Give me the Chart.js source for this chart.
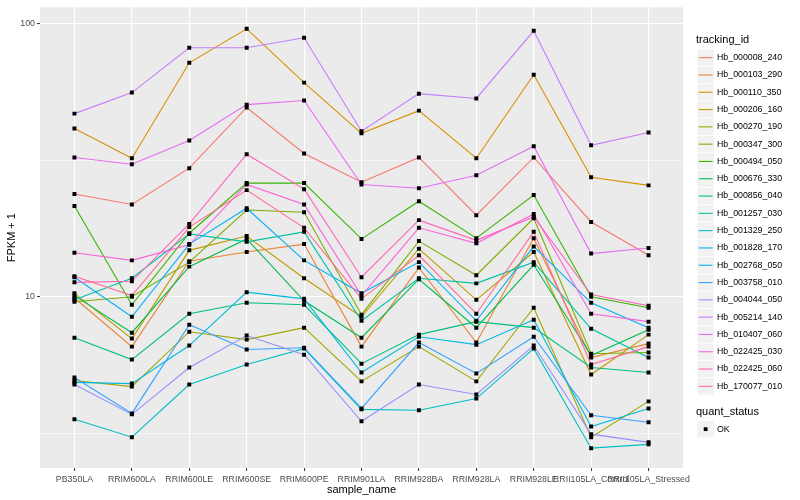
<!DOCTYPE html>
<html>
<head>
<meta charset="utf-8">
<script src="https://cdn.jsdelivr.net/npm/chart.js@4.4.0/dist/chart.umd.min.js"></script>
<style>
  html, body { margin: 0; padding: 0; background: #fff; }
  #wrap { width: 800px; height: 500px; }
</style>
</head>
<body>
<div id="wrap"><canvas id="chart" width="800" height="500"></canvas></div>
<script>
const sampleNames = ['PB350LA', 'RRIM600LA', 'RRIM600LE', 'RRIM600SE', 'RRIM600PE', 'RRIM901LA',
    'RRIM928BA', 'RRIM928LA', 'RRIM928LE', 'RRII105LA_Control', 'RRII105LA_Stressed'];

const trackingIds = ['Hb_000008_240', 'Hb_000103_290', 'Hb_000110_350', 'Hb_000206_160', 'Hb_000270_190',
    'Hb_000347_300', 'Hb_000494_050', 'Hb_000676_330', 'Hb_000856_040', 'Hb_001257_030',
    'Hb_001329_250', 'Hb_001828_170', 'Hb_002768_050', 'Hb_003758_010', 'Hb_004044_050',
    'Hb_005214_140', 'Hb_010407_060', 'Hb_022425_030', 'Hb_022425_060', 'Hb_170077_010'];

const seriesColors = ['#F8766D', '#EA8331', '#D89000', '#C09B00', '#A3A500', '#7CAE00', '#39B600',
    '#00BB4E', '#00BF7D', '#00C1A3', '#00BFC4', '#00BAE0', '#00B0F6', '#35A2FF', '#9590FF',
    '#C77CFF', '#E76BF3', '#FA62DB', '#FF62BC', '#FF6C91'];

// FPKM + 1 per sample
const hb_000008_240 = [23.8, 21.8, 29.6, 49.4, 33.5, 26.3, 32.4, 19.9, 32.4, 18.8, 14.2];
const hb_000103_290 = [9.9, 6.57, 13.5, 14.6, 15.6, 6.57, 12.8, 6.8, 16.4, 5.99, 6.74];
const hb_000110_350 = [41.4, 32.2, 72.0, 95.9, 60.9, 39.7, 48.1, 32.2, 65.1, 27.4, 25.6];
const hb_000206_160 = [10.3, 7.03, 14.8, 16.7, 11.7, 8.45, 15.0, 9.75, 14.6, 5.19, 7.27];
const hb_000270_190 = [4.94, 4.69, 7.45, 6.97, 7.71, 4.90, 6.57, 4.90, 9.12, 3.06, 4.14];
const hb_000347_300 = [9.59, 10.0, 13.4, 20.8, 20.4, 8.60, 16.0, 12.0, 19.4, 6.19, 6.25];
const hb_000494_050 = [21.5, 9.35, 17.1, 26.1, 26.1, 16.3, 22.4, 16.4, 23.6, 10.0, 9.12];
const hb_000676_330 = [10.1, 7.39, 12.9, 16.3, 9.67, 7.08, 11.6, 7.71, 13.1, 6.09, 7.58];
const hb_000856_040 = [7.08, 5.89, 8.67, 9.51, 9.35, 5.69, 7.27, 8.11, 7.71, 5.51, 5.28];
const hb_001257_030 = [9.75, 11.7, 17.0, 15.9, 17.3, 8.17, 11.7, 11.2, 13.4, 7.64, 5.99];
const hb_001329_250 = [3.56, 3.06, 4.77, 5.65, 6.46, 3.87, 3.84, 4.24, 6.46, 2.79, 2.88];
const hb_001828_170 = [4.86, 4.81, 6.63, 10.4, 9.83, 5.28, 7.14, 6.68, 8.24, 3.35, 3.90];
const hb_002768_050 = [11.8, 8.45, 15.6, 21.1, 13.6, 10.3, 13.4, 8.17, 15.3, 9.51, 7.71];
const hb_003758_010 = [5.06, 3.74, 7.90, 6.41, 6.51, 3.90, 6.80, 5.24, 7.14, 3.68, 3.47];
const hb_004044_050 = [4.77, 3.71, 5.51, 7.21, 6.14, 3.50, 4.77, 4.39, 6.63, 3.14, 2.93];
const hb_005214_140 = [46.9, 56.0, 81.7, 81.7, 88.9, 40.4, 55.5, 53.3, 94.3, 35.9, 40.0];
const hb_010407_060 = [32.4, 30.6, 37.4, 50.6, 52.4, 25.8, 25.0, 27.9, 35.6, 14.4, 15.1];
const hb_022425_030 = [14.5, 13.6, 15.5, 25.8, 21.8, 10.1, 17.9, 15.7, 20.1, 8.67, 8.11];
const hb_022425_060 = [11.3, 11.4, 18.5, 33.3, 24.8, 11.8, 19.1, 16.1, 19.6, 10.2, 9.27];
const hb_170077_010 = [11.9, 10.1, 18.0, 24.6, 17.9, 9.83, 14.2, 8.67, 17.3, 5.65, 6.57];

const fpkm = [hb_000008_240, hb_000103_290, hb_000110_350, hb_000206_160, hb_000270_190,
    hb_000347_300, hb_000494_050, hb_000676_330, hb_000856_040, hb_001257_030,
    hb_001329_250, hb_001828_170, hb_002768_050, hb_003758_010, hb_004044_050,
    hb_005214_140, hb_010407_060, hb_022425_030, hb_022425_060, hb_170077_010];

// major breaks get labels, minor ones only a thin grid line
const yBreaks = [Math.sqrt(10), 10, Math.sqrt(1000), 100];
const yLabels = ['', '10', '', '100'];

const FONT = "'Liberation Sans', Arial, Helvetica, sans-serif";

function toPoints(values) {
    return values.map((v, i) => ({ x: i, y: v }));
}

const lineSets = trackingIds.map((id, i) => ({
    label: id,
    data: toPoints(fpkm[i]),
    borderColor: seriesColors[i],
    borderWidth: 1.1,
    pointRadius: 0,
    tension: 0,
    fill: false,
    order: 100 - i
}));

const pointSets = trackingIds.map((id, i) => ({
    label: id + ' (OK)',
    data: toPoints(fpkm[i]),
    showLine: false,
    pointStyle: 'rect',
    pointRadius: 2.8,
    pointBackgroundColor: '#000',
    pointBorderWidth: 0,
    order: 1
}));

const panelBackground = {
    id: 'panelBackground',
    beforeDraw(chart) {
        const { ctx, chartArea: a } = chart;
        ctx.save();
        ctx.fillStyle = '#fff';
        ctx.fillRect(0, 0, chart.width, chart.height);
        ctx.fillStyle = '#EBEBEB';
        ctx.fillRect(a.left, a.top, a.right - a.left, a.bottom - a.top);
        ctx.restore();
    }
};

const ggLegend = {
    id: 'ggLegend',
    afterDraw(chart) {
        const ctx = chart.ctx;
        const keyX = 697, keySize = 17.3, firstTop = 49, textX = 717;
        ctx.save();
        ctx.textAlign = 'left';
        ctx.textBaseline = 'middle';

        ctx.fillStyle = '#000';
        ctx.font = `11px ${FONT}`;
        ctx.fillText('tracking_id', 696, 40);

        trackingIds.forEach((id, i) => {
            const top = firstTop + i * keySize;
            const mid = top + keySize / 2;
            ctx.fillStyle = '#F2F2F2';
            ctx.fillRect(keyX + 0.5, top + 0.5, keySize - 1, keySize - 1);
            ctx.strokeStyle = seriesColors[i];
            ctx.lineWidth = 1.1;
            ctx.beginPath();
            ctx.moveTo(keyX + 1.7, mid);
            ctx.lineTo(keyX + keySize - 1.7, mid);
            ctx.stroke();
            ctx.fillStyle = '#000';
            ctx.font = `8.8px ${FONT}`;
            ctx.fillText(id, textX, mid);
        });

        ctx.font = `11px ${FONT}`;
        ctx.fillText('quant_status', 696, 412);
        const okTop = 420.5;
        ctx.fillStyle = '#F2F2F2';
        ctx.fillRect(keyX + 0.5, okTop + 0.5, keySize - 1, keySize - 1);
        ctx.fillStyle = '#000';
        ctx.fillRect(keyX + keySize / 2 - 1.9, okTop + keySize / 2 - 1.9, 3.8, 3.8);
        ctx.font = `8.8px ${FONT}`;
        ctx.fillText('OK', textX, okTop + keySize / 2);
        ctx.restore();
    }
};

new Chart(document.getElementById('chart'), {
    type: 'line',
    data: { datasets: [...lineSets, ...pointSets] },
    options: {
        responsive: false,
        animation: false,
        layout: { padding: { left: 0, right: 117, top: 5, bottom: 0 } },
        scales: {
            x: {
                type: 'linear',
                min: -0.6,
                max: 10.6,
                afterBuildTicks: scale => {
                    scale.ticks = sampleNames.map((_, i) => ({ value: i }));
                },
                afterFit: scale => { scale.height = 32; },
                ticks: {
                    callback: value => sampleNames[value],
                    autoSkip: false,
                    maxRotation: 0,
                    minRotation: 0,
                    padding: 3,
                    color: '#4D4D4D',
                    font: { family: FONT, size: 8.8 }
                },
                grid: {
                    color: '#fff',
                    lineWidth: 1.1,
                    tickColor: '#333',
                    tickLength: 3,
                    tickWidth: 1
                },
                border: { display: false },
                title: {
                    display: true,
                    text: 'sample_name',
                    color: '#000',
                    font: { family: FONT, size: 11 },
                    padding: { top: 0, bottom: 3 }
                }
            },
            y: {
                type: 'logarithmic',
                min: 2.36,
                max: 115,
                afterBuildTicks: scale => {
                    scale.ticks = yBreaks.map(v => ({ value: v }));
                },
                afterFit: scale => { scale.width = 40; },
                ticks: {
                    callback: (value, index) => yLabels[index],
                    padding: 2,
                    color: '#4D4D4D',
                    font: { family: FONT, size: 8.8 }
                },
                grid: {
                    color: '#fff',
                    lineWidth: ctx => (ctx.index % 2 === 1 ? 1.1 : 0.55),
                    tickColor: ctx => (ctx.index % 2 === 1 ? '#333' : 'rgba(0,0,0,0)'),
                    tickLength: 3,
                    tickWidth: 1
                },
                border: { display: false },
                title: {
                    display: true,
                    text: 'FPKM + 1',
                    color: '#000',
                    font: { family: FONT, size: 11 },
                    padding: { top: 5, bottom: 0 }
                }
            }
        },
        plugins: {
            legend: { display: false },
            tooltip: { enabled: false }
        }
    },
    plugins: [panelBackground, ggLegend]
});
</script>
</body>
</html>
